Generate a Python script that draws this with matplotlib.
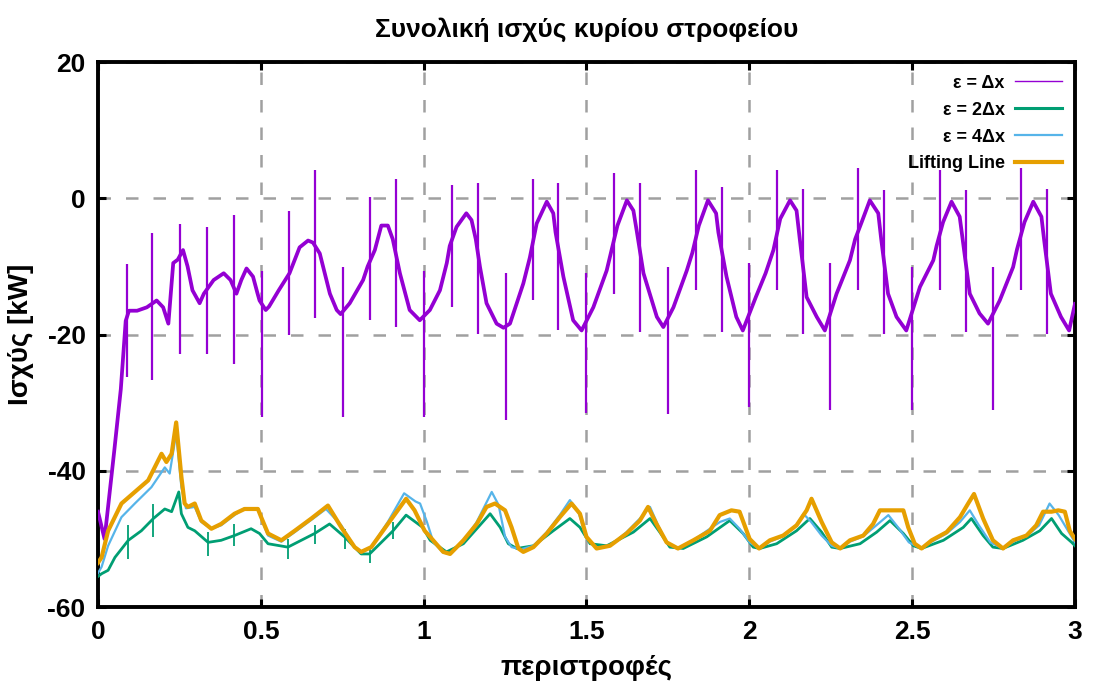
import matplotlib
matplotlib.use("Agg")
import matplotlib.pyplot as plt
from matplotlib.lines import Line2D

plt.rcParams["font.family"] = ["Liberation Sans Narrow", "Liberation Sans", "DejaVu Sans"]
plt.rcParams["font.weight"] = "bold"
plt.rcParams["axes.unicode_minus"] = False

# ε = Δx : smooth part of the trace
dx1_x = [0.000, 0.020, 0.050, 0.070, 0.085, 0.095, 0.120, 0.150, 0.180, 0.200,
         0.216, 0.231, 0.245, 0.261, 0.275, 0.290, 0.312, 0.325, 0.355, 0.386,
         0.407, 0.425, 0.440, 0.456, 0.476, 0.490, 0.496, 0.515, 0.525, 0.555,
         0.575, 0.588, 0.619, 0.645, 0.660, 0.681, 0.712, 0.733, 0.745, 0.773,
         0.814, 0.828, 0.850, 0.870, 0.890, 0.905, 0.927, 0.957, 0.988, 1.019,
         1.050, 1.071, 1.080, 1.101, 1.131, 1.147, 1.160, 1.173, 1.193, 1.224,
         1.245, 1.265, 1.306, 1.326, 1.347, 1.378, 1.398, 1.405, 1.429, 1.459,
         1.485, 1.521, 1.562, 1.575, 1.595, 1.624, 1.644, 1.655, 1.675, 1.716,
         1.736, 1.767, 1.808, 1.825, 1.845, 1.873, 1.898, 1.905, 1.930, 1.960,
         1.980, 2.020, 2.050, 2.074, 2.095, 2.125, 2.145, 2.155, 2.176, 2.207,
         2.232, 2.268, 2.309, 2.325, 2.345, 2.370, 2.396, 2.405, 2.426, 2.452,
         2.482, 2.524, 2.565, 2.575, 2.595, 2.621, 2.646, 2.655, 2.677, 2.707,
         2.733, 2.769, 2.810, 2.822, 2.845, 2.872, 2.897, 2.905, 2.926, 2.957,
         2.982, 3.000]
dx1_y = [-46.0, -50.0, -37.0, -28.0, -18.0, -16.5, -16.5, -16.0, -15.0, -16.0,
         -18.4, -9.5, -9.0, -7.6, -10.0, -13.5, -15.4, -14.0, -12.0, -11.0,
         -12.0, -14.0, -12.0, -10.3, -11.5, -14.0, -15.0, -16.4, -15.9, -13.5,
         -12.0, -11.0, -7.2, -6.2, -6.5, -8.1, -14.0, -16.4, -17.0, -15.4,
         -12.0, -10.0, -7.6, -4.0, -4.0, -6.0, -11.0, -16.4, -17.9, -16.4,
         -13.5, -9.5, -7.0, -4.2, -2.2, -3.2, -6.0, -10.1, -15.4, -18.4,
         -19.0, -18.4, -12.5, -8.7, -3.7, -0.5, -2.2, -5.0, -11.5, -17.9,
         -19.4, -16.0, -10.6, -8.0, -4.0, -0.3, -1.8, -5.0, -11.0, -17.4,
         -18.9, -16.0, -10.6, -8.0, -4.0, -0.3, -2.2, -5.0, -11.5, -17.4,
         -19.4, -14.5, -11.0, -7.6, -3.0, -0.3, -1.8, -6.0, -14.5, -17.4,
         -19.4, -14.0, -9.1, -6.0, -3.5, -0.3, -2.2, -6.0, -14.0, -17.4,
         -19.4, -13.0, -9.1, -7.0, -3.5, -0.5, -2.7, -6.0, -14.0, -16.9,
         -18.4, -15.0, -10.1, -7.5, -3.5, -0.5, -2.7, -6.0, -14.0, -17.4,
         -19.4, -15.5]

# ε = Δx : impulsive spikes (position, upper end, lower end)
spike_x = [0.088, 0.167, 0.252, 0.336, 0.418, 0.503, 0.587, 0.666, 0.751, 0.835,
           0.915, 1.002, 1.086, 1.168, 1.253, 1.337, 1.413, 1.500, 1.584, 1.664,
           1.749, 1.835, 1.915, 2.000, 2.084, 2.164, 2.249, 2.335, 2.413, 2.499,
           2.585, 2.664, 2.749, 2.833, 2.913]
spike_hi = [-9.6, -5.1, -3.7, -4.2, -2.5, -10.6, -1.8, 4.1, -10.1, 0.2,
            2.9, -10.6, 1.9, 2.2, -11.0, 2.9, 2.2, -11.0, 3.7, 2.2,
            -10.1, 4.1, 1.6, -9.5, 4.1, 1.4, -9.5, 4.4, 1.2, -10.1,
            4.1, 1.2, -10.1, 4.4, 1.4]
spike_lo = [-26.3, -26.7, -22.8, -22.8, -24.3, -32.1, -20.1, -17.6, -32.1, -17.9,
            -18.9, -32.1, -16.0, -19.9, -32.6, -15.0, -19.4, -31.5, -14.0, -19.6,
            -31.6, -13.5, -19.6, -30.6, -13.5, -19.9, -31.1, -13.5, -19.9, -31.1,
            -13.5, -19.6, -31.1, -13.5, -19.9]

# ε = 2Δx
dx2_x = [0.000, 0.011, 0.031, 0.052, 0.093, 0.133, 0.170, 0.205, 0.226, 0.248,
         0.256, 0.276, 0.297, 0.338, 0.378, 0.419, 0.470, 0.496, 0.522, 0.583,
         0.665, 0.711, 0.757, 0.808, 0.834, 0.906, 0.946, 0.997, 1.020, 1.070,
         1.122, 1.163, 1.204, 1.235, 1.260, 1.286, 1.337, 1.398, 1.449, 1.480,
         1.511, 1.562, 1.644, 1.695, 1.725, 1.756, 1.797, 1.869, 1.940, 1.981,
         2.012, 2.032, 2.084, 2.145, 2.186, 2.222, 2.253, 2.279, 2.340, 2.391,
         2.432, 2.473, 2.504, 2.529, 2.596, 2.657, 2.682, 2.718, 2.748, 2.779,
         2.840, 2.892, 2.928, 2.959, 2.990, 3.000]
dx2_y = [-55.5, -55.1, -54.6, -52.7, -50.2, -48.8, -47.0, -45.6, -46.0, -43.1,
         -46.3, -48.3, -48.8, -50.5, -50.2, -49.5, -48.5, -49.2, -50.7, -51.2,
         -49.2, -47.8, -49.7, -52.2, -52.2, -48.8, -46.5, -48.3, -50.2, -51.9,
         -50.7, -48.5, -46.3, -48.3, -50.7, -51.4, -51.0, -48.8, -47.0, -48.3,
         -50.7, -51.0, -49.0, -47.0, -49.0, -51.2, -51.4, -49.7, -47.3, -49.2,
         -51.2, -51.4, -50.7, -48.8, -47.0, -49.0, -51.2, -51.4, -50.7, -49.0,
         -47.3, -49.2, -51.0, -51.4, -50.2, -48.3, -47.0, -49.5, -51.2, -51.4,
         -50.2, -48.8, -47.0, -49.2, -50.5, -51.0]
dx2_spike_x = [0.093, 0.170, 0.338, 0.419, 0.583, 0.665, 0.757, 0.834, 0.906]
dx2_spike_hi = [-48.0, -44.8, -49.0, -47.8, -50.0, -48.0, -48.5, -51.0, -47.5]
dx2_spike_lo = [-53.0, -49.7, -52.5, -51.0, -53.0, -50.8, -51.5, -53.5, -50.0]

# ε = 4Δx
dx4_x = [0.000, 0.011, 0.031, 0.072, 0.113, 0.164, 0.205, 0.220, 0.240, 0.256,
         0.270, 0.297, 0.317, 0.348, 0.378, 0.419, 0.450, 0.491, 0.505, 0.522,
         0.563, 0.604, 0.655, 0.700, 0.747, 0.788, 0.808, 0.839, 0.890, 0.940,
         0.975, 0.989, 1.010, 1.030, 1.060, 1.081, 1.122, 1.163, 1.209, 1.230,
         1.250, 1.270, 1.300, 1.337, 1.378, 1.418, 1.449, 1.475, 1.500, 1.531,
         1.572, 1.623, 1.664, 1.695, 1.720, 1.746, 1.781, 1.828, 1.879, 1.910,
         1.940, 1.970, 2.001, 2.030, 2.063, 2.104, 2.145, 2.166, 2.190, 2.222,
         2.253, 2.279, 2.309, 2.350, 2.390, 2.427, 2.460, 2.490, 2.529, 2.560,
         2.606, 2.647, 2.677, 2.705, 2.740, 2.779, 2.810, 2.851, 2.890, 2.922,
         2.950, 2.975, 3.000]
dx4_y = [-55.0, -54.1, -51.0, -46.8, -44.8, -42.4, -39.5, -40.4, -34.5, -42.4,
         -45.5, -45.3, -47.5, -48.5, -48.0, -46.5, -45.5, -45.5, -47.5, -49.5,
         -50.4, -49.0, -47.2, -45.6, -48.0, -51.2, -52.0, -51.2, -47.5, -43.3,
         -44.5, -44.8, -47.5, -50.5, -52.0, -52.2, -50.4, -47.5, -43.1, -45.0,
         -49.7, -51.2, -51.5, -51.0, -49.0, -46.5, -44.3, -46.0, -50.0, -51.3,
         -51.0, -49.0, -47.0, -45.3, -48.0, -50.5, -51.4, -50.2, -48.5, -47.5,
         -47.0, -48.5, -50.5, -51.4, -50.4, -49.6, -48.0, -46.3, -47.5, -49.5,
         -51.0, -51.4, -50.4, -49.6, -48.0, -46.5, -48.5, -50.5, -51.4, -50.4,
         -49.2, -47.5, -45.8, -48.0, -50.5, -51.4, -50.4, -49.6, -48.0, -44.8,
         -46.5, -48.5, -50.5]

# Lifting Line
ll_x = [0.000, 0.011, 0.031, 0.072, 0.113, 0.154, 0.195, 0.210, 0.226, 0.240,
        0.256, 0.266, 0.276, 0.297, 0.317, 0.348, 0.378, 0.419, 0.450, 0.491,
        0.501, 0.522, 0.563, 0.604, 0.655, 0.706, 0.747, 0.788, 0.808, 0.839,
        0.890, 0.946, 0.972, 1.003, 1.020, 1.060, 1.081, 1.122, 1.163, 1.193,
        1.219, 1.250, 1.270, 1.291, 1.306, 1.337, 1.378, 1.418, 1.454, 1.480,
        1.500, 1.531, 1.572, 1.623, 1.664, 1.689, 1.715, 1.746, 1.781, 1.828,
        1.879, 1.909, 1.945, 1.970, 2.001, 2.030, 2.063, 2.104, 2.145, 2.176,
        2.191, 2.222, 2.253, 2.279, 2.309, 2.350, 2.380, 2.401, 2.432, 2.473,
        2.488, 2.508, 2.529, 2.560, 2.606, 2.647, 2.672, 2.690, 2.718, 2.748,
        2.779, 2.810, 2.851, 2.881, 2.902, 2.928, 2.949, 2.969, 2.984, 3.000]
ll_y = [-53.5, -52.7, -48.8, -44.8, -43.1, -41.4, -37.5, -38.7, -37.5, -32.9,
        -40.9, -44.8, -45.3, -44.8, -47.3, -48.5, -47.8, -46.3, -45.6, -45.6,
        -46.8, -49.2, -50.2, -48.8, -47.0, -45.1, -48.3, -51.2, -51.9, -51.2,
        -47.8, -44.1, -45.8, -48.8, -49.7, -51.9, -52.2, -50.2, -47.8, -45.3,
        -44.8, -45.8, -48.3, -51.4, -51.9, -51.2, -49.2, -46.8, -44.8, -46.3,
        -49.7, -51.4, -51.0, -49.2, -47.3, -45.3, -47.8, -50.5, -51.4, -50.2,
        -48.8, -46.5, -45.8, -46.0, -50.0, -51.4, -50.2, -49.5, -48.0, -45.8,
        -44.1, -47.5, -50.5, -51.4, -50.2, -49.5, -47.8, -45.8, -45.8, -45.8,
        -48.3, -50.7, -51.4, -50.2, -49.0, -46.8, -44.8, -43.4, -47.0, -50.2,
        -51.4, -50.2, -49.5, -48.0, -46.0, -46.0, -45.8, -46.0, -48.8, -50.0]

C_DX1 = "#9400d3"
C_DX2 = "#009e73"
C_DX4 = "#56b4e9"
C_LL = "#e69f00"


def main() -> None:
    fig = plt.figure(figsize=(10.94, 6.97), dpi=100)
    ax = fig.add_axes([0.0896, 0.129, 0.893, 0.782])

    ax.plot(dx1_x, dx1_y, color=C_DX1, lw=2.7, zorder=3)
    ax.vlines(spike_x, spike_lo, spike_hi, color=C_DX1, lw=1.6, zorder=3)
    ax.plot(dx2_x, dx2_y, color=C_DX2, lw=2.0, zorder=4)
    ax.vlines(dx2_spike_x, dx2_spike_lo, dx2_spike_hi, color=C_DX2, lw=1.3, zorder=4)
    ax.plot(dx4_x, dx4_y, color=C_DX4, lw=1.6, zorder=5)
    ax.plot(ll_x, ll_y, color=C_LL, lw=3.0, zorder=6)

    ax.set_xlim(0, 3)
    ax.set_ylim(-60, 20)
    ax.set_xticks([0, 0.5, 1, 1.5, 2, 2.5, 3])
    ax.set_xticklabels(["0", "0.5", "1", "1.5", "2", "2.5", "3"])
    ax.set_yticks([-60, -40, -20, 0, 20])
    ax.tick_params(direction="in", length=6, width=2.2, top=True, right=True,
                   labelsize=19, pad=9)
    for lab in ax.get_xticklabels() + ax.get_yticklabels():
        lab.set_fontweight("bold")
    for sp in ax.spines.values():
        sp.set_linewidth(2.8)

    ax.grid(True, color="#a0a0a0", lw=1.8, linestyle=(0, (5, 6)), zorder=0)
    ax.set_axisbelow(True)

    ax.set_title("Συνολική ισχύς κυρίου στροφείου", fontsize=19, fontweight="bold", pad=18)
    ax.set_xlabel("περιστροφές", fontsize=20, fontweight="bold", labelpad=8)
    ax.set_ylabel("Ισχύς [kW]", fontsize=20, fontweight="bold", labelpad=10)

    handles = [Line2D([], [], color=C_DX1, lw=1.0),
               Line2D([], [], color=C_DX2, lw=2.2),
               Line2D([], [], color=C_DX4, lw=1.6),
               Line2D([], [], color=C_LL, lw=3.0)]
    labels = ["ε = Δx", "ε = 2Δx", "ε = 4Δx", "Lifting Line"]
    leg = ax.legend(handles, labels, loc="upper right", frameon=False, markerfirst=False,
                    prop={"size": 13, "weight": "bold"}, handlelength=2.6,
                    labelspacing=0.55, borderaxespad=0.3, handletextpad=0.6)
    leg.set_zorder(10)

    fig.savefig("out.png", dpi=100, facecolor="white")


if __name__ == "__main__":
    main()
